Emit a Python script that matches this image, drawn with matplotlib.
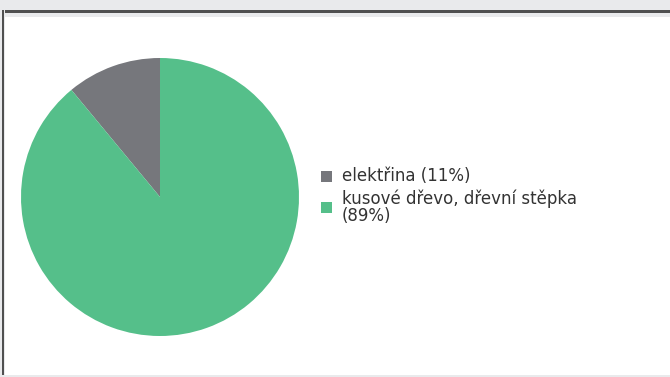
import matplotlib
matplotlib.use("Agg")
import matplotlib.pyplot as plt
from matplotlib.patches import Rectangle

labels = ["elektřina (11%)", "kusové dřevo, dřevní stěpka\n(89%)"]
values = [11, 89]
colors = ["#76777c", "#55bf8a"]

W, H = 670, 377
fig = plt.figure(figsize=(W / 100, H / 100), dpi=100)
fig.patch.set_facecolor("white")


def px_rect(x, y, w, h, color):
    # rectangle in pixel coords, y measured from the top
    fig.patches.append(Rectangle((x / W, 1 - (y + h) / H), w / W, h / H,
                                 transform=fig.transFigure, color=color,
                                 zorder=0, lw=0))


# frame around the chart area
px_rect(0, 0, W, 17, "#e9eaec")
px_rect(0, 10, W, 3, "#505050")
px_rect(0, 0, 5, H, "#e9eaec")
px_rect(2, 10, 2, H, "#505050")
px_rect(0, 375, W, 2, "#e9eaec")

# pie
cx, cy, r = 160, 197, 139
ax = fig.add_axes([(cx - r) / W, 1 - (cy + r) / H, 2 * r / W, 2 * r / H])
ax.pie(values, colors=colors, startangle=90, counterclock=True,
       wedgeprops=dict(linewidth=0))
ax.set_xlim(-1, 1)
ax.set_ylim(-1, 1)
ax.set_aspect("equal")
ax.axis("off")

# legend
legend_y = [176, 207]
for lab, col, y in zip(labels, colors, legend_y):
    px_rect(321, y - 5.5, 11, 11, col)
    fig.text(342 / W, 1 - y / H, lab, fontsize=12, color="#333333",
             va="center", ha="left", linespacing=0.95)

fig.savefig("out.png", dpi=100)
